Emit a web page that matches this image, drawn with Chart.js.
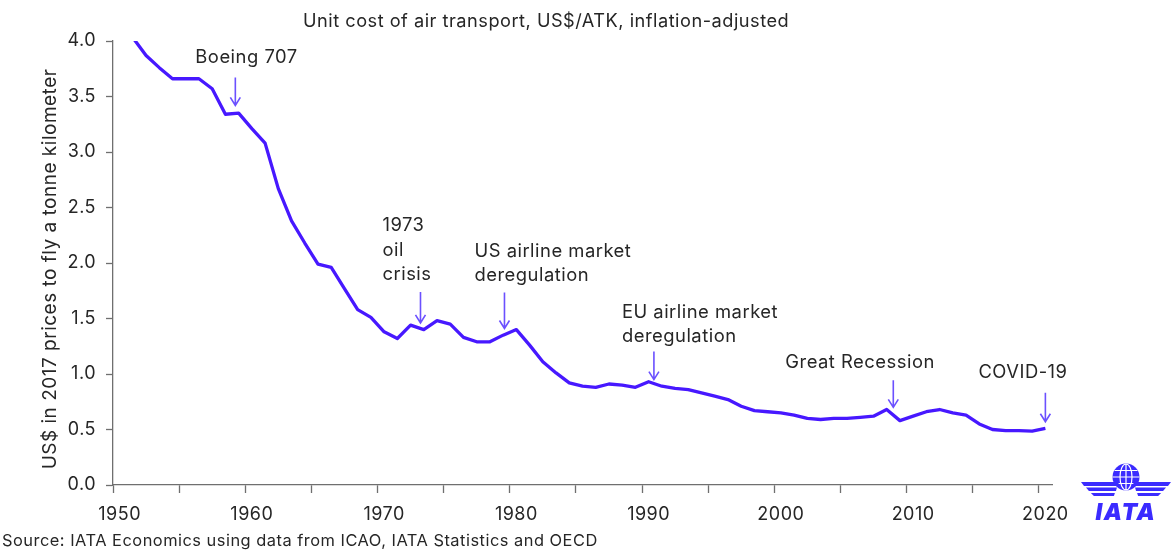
<!DOCTYPE html>
<html>
<head>
<meta charset="utf-8">
<script src="https://cdn.jsdelivr.net/npm/chart.js@4"></script>
<style>
  html, body { margin: 0; padding: 0; background: #fff; }
  #wrap { width: 1172px; height: 554px; position: relative; }
</style>
</head>
<body>
<div id="wrap"><canvas id="chart"></canvas></div>
<script>
// Unit cost of air transport, US$/ATK, inflation-adjusted

const years = Array.from({ length: 71 }, (_, i) => 1950 + i);

// 1950 .. 2020
const unitCost = [
  null, 4.03, 3.87, 3.76, 3.66, 3.66, 3.66, 3.57, 3.34, 3.35,
  3.21, 3.08, 2.67, 2.38, 2.18, 1.99, 1.96, 1.77, 1.58, 1.51,
  1.38, 1.32, 1.44, 1.40, 1.48, 1.45, 1.33, 1.29, 1.29, 1.35,
  1.40, 1.26, 1.11, 1.01, 0.92, 0.89, 0.88, 0.91, 0.90, 0.88,
  0.93, 0.89, 0.87, 0.86, 0.83, 0.80, 0.77, 0.71, 0.67, 0.66,
  0.65, 0.63, 0.60, 0.59, 0.60, 0.60, 0.61, 0.62, 0.68, 0.58,
  0.62, 0.66, 0.68, 0.65, 0.63, 0.55, 0.50, 0.49, 0.49, 0.485,
  0.51,
];

const notes = [
  { at: 1958.75, tip: 3.42, len: 28, dx: -40, gap: 20, lines: ["Boeing 707"] },
  { at: 1972.75, tip: 1.46, len: 31, dx: -38, gap: 17, lines: ["1973", "oil", "crisis"] },
  { at: 1979.1, tip: 1.41, len: 36, dx: -30, gap: 17, lines: ["US airline market", "deregulation"] },
  { at: 1990.4, tip: 0.95, len: 28, dx: -32, gap: 15, lines: ["EU airline market", "deregulation"] },
  { at: 2008.5, tip: 0.70, len: 27, dx: -108, gap: 18, lines: ["Great Recession"] },
  { at: 2020, tip: 0.57, len: 29, dx: -67, gap: 20, lines: ["COVID-19"] },
];

const LINE = "#4718FF";
const ARROW = "#6B50FF";
const TEXT = "#262626";
const AXIS = "#6f6f6f";
const FONT = "Inter";

const extras = {
  id: "extras",
  beforeDraw(chart) {
    chart.ctx.letterSpacing = "0.5px";
  },
  afterDraw(chart) {
    const { ctx, scales } = chart;
    const x = scales.x, y = scales.y;
    ctx.save();
    ctx.letterSpacing = "0.5px";

    // title
    ctx.fillStyle = TEXT;
    ctx.font = `18.2px ${FONT}`;
    ctx.textBaseline = "middle";
    ctx.textAlign = "left";
    ctx.fillText("Unit cost of air transport, US$/ATK, inflation-adjusted", 303, 22);

    // y axis title
    ctx.save();
    ctx.translate(50, 269);
    ctx.rotate(-Math.PI / 2);
    ctx.textAlign = "center";
    ctx.font = `19px ${FONT}`;
    ctx.fillText("US$ in 2017 prices to fly a tonne kilometer", 0, 0);
    ctx.restore();

    // source
    ctx.font = `16.4px ${FONT}`;
    ctx.textAlign = "left";
    ctx.fillText("Source: IATA Economics using data from ICAO, IATA Statistics and OECD", 2, 541);

    // annotations
    notes.forEach((n) => {
      const ax = x.getPixelForValue(n.at - years[0]);
      const tipY = y.getPixelForValue(n.tip);
      const topY = tipY - n.len;
      ctx.strokeStyle = ARROW;
      ctx.lineWidth = 1.6;
      ctx.beginPath();
      ctx.moveTo(ax, topY);
      ctx.lineTo(ax, tipY);
      ctx.moveTo(ax - 5, tipY - 8);
      ctx.lineTo(ax, tipY);
      ctx.lineTo(ax + 5, tipY - 8);
      ctx.stroke();
      ctx.fillStyle = TEXT;
      ctx.font = `18.4px ${FONT}`;
      ctx.textAlign = "left";
      const lh = 24.5;
      n.lines.forEach((t, i) => {
        const ly = topY - n.gap - (n.lines.length - 1 - i) * lh;
        ctx.fillText(t, ax + n.dx, ly);
      });
    });

    // IATA logo
    const cx = 1126, cy = 477;
    ctx.fillStyle = "#3B2BFF";
    ctx.strokeStyle = "#fff";
    ctx.beginPath();
    ctx.arc(cx, cy, 13.5, 0, Math.PI * 2);
    ctx.fill();
    ctx.lineWidth = 1.2;
    ctx.beginPath();
    ctx.ellipse(cx, cy, 6, 13, 0, 0, Math.PI * 2);
    ctx.moveTo(cx, cy - 13.5); ctx.lineTo(cx, cy + 13.5);
    ctx.moveTo(cx - 13.5, cy); ctx.lineTo(cx + 13.5, cy);
    ctx.moveTo(cx - 11.5, cy - 6.5); ctx.lineTo(cx + 11.5, cy - 6.5);
    ctx.moveTo(cx - 11.5, cy + 6.5); ctx.lineTo(cx + 11.5, cy + 6.5);
    ctx.stroke();
    ctx.fillStyle = "#3B2BFF";
    [[0, 38, 4], [5.5, 31, 3.5], [11, 24, 3]].forEach(([dy, w, h]) => {
      const top = 482 + dy;
      ctx.beginPath();
      ctx.moveTo(cx - 45 + dy * 0.9, top);
      ctx.lineTo(cx - 45 + dy * 0.9 + w, top);
      ctx.lineTo(cx - 45 + dy * 0.9 + w - 1, top + h);
      ctx.lineTo(cx - 45 + dy * 0.9 + 3, top + h);
      ctx.closePath();
      ctx.fill();
      ctx.beginPath();
      ctx.moveTo(cx + 45 - dy * 0.9, top);
      ctx.lineTo(cx + 45 - dy * 0.9 - w, top);
      ctx.lineTo(cx + 45 - dy * 0.9 - w + 1, top + h);
      ctx.lineTo(cx + 45 - dy * 0.9 - 3, top + h);
      ctx.closePath();
      ctx.fill();
    });
    ctx.letterSpacing = "1.5px";
    ctx.font = `italic 900 23px ${FONT}`;
    ctx.textAlign = "center";
    ctx.textBaseline = "alphabetic";
    ctx.fillText("IATA", cx, 520);
    ctx.restore();
  },
};

const data = {
  labels: years,
  datasets: [
    {
      label: "Unit cost",
      data: unitCost,
      borderColor: LINE,
      backgroundColor: LINE,
      borderWidth: 3.3,
      pointRadius: 0,
      tension: 0,
      clip: 0,
      borderJoinStyle: "round",
    },
  ],
};

const config = {
  type: "line",
  data,
  options: {
    responsive: false,
    animation: false,
    layout: { padding: { top: 41, right: 120, left: 0, bottom: 0 } },
    plugins: {
      legend: { display: false },
      tooltip: { enabled: false },
    },
    scales: {
      x: {
        type: "category",
        offset: true,
        afterFit: (s) => { s.height = 69; },
        grid: {
          offset: true,
          drawOnChartArea: false,
          tickLength: 8,
          tickWidth: 1.3,
          tickColor: (c) => (c.index % 5 === 0 ? AXIS : "transparent"),
        },
        border: { color: AXIS, width: 1.3 },
        ticks: {
          autoSkip: false,
          maxRotation: 0,
          padding: 11,
          color: TEXT,
          font: { family: FONT, size: 18 },
          callback: (v, i) => (i % 10 === 0 ? years[i] : ""),
        },
      },
      y: {
        min: 0,
        max: 4,
        afterFit: (s) => { s.width = 113; },
        grid: {
          drawOnChartArea: false,
          tickLength: 7,
          tickWidth: 1.3,
          tickColor: AXIS,
        },
        border: { color: AXIS, width: 1.3 },
        ticks: {
          stepSize: 0.5,
          padding: 10,
          color: TEXT,
          font: { family: FONT, size: 18 },
          callback: (v) => v.toFixed(1),
        },
      },
    },
  },
  plugins: [extras],
};

const cv = document.getElementById("chart");
cv.width = 1172;
cv.height = 554;
const myChart = new Chart(cv.getContext("2d"), config);
</script>
</body>
</html>
